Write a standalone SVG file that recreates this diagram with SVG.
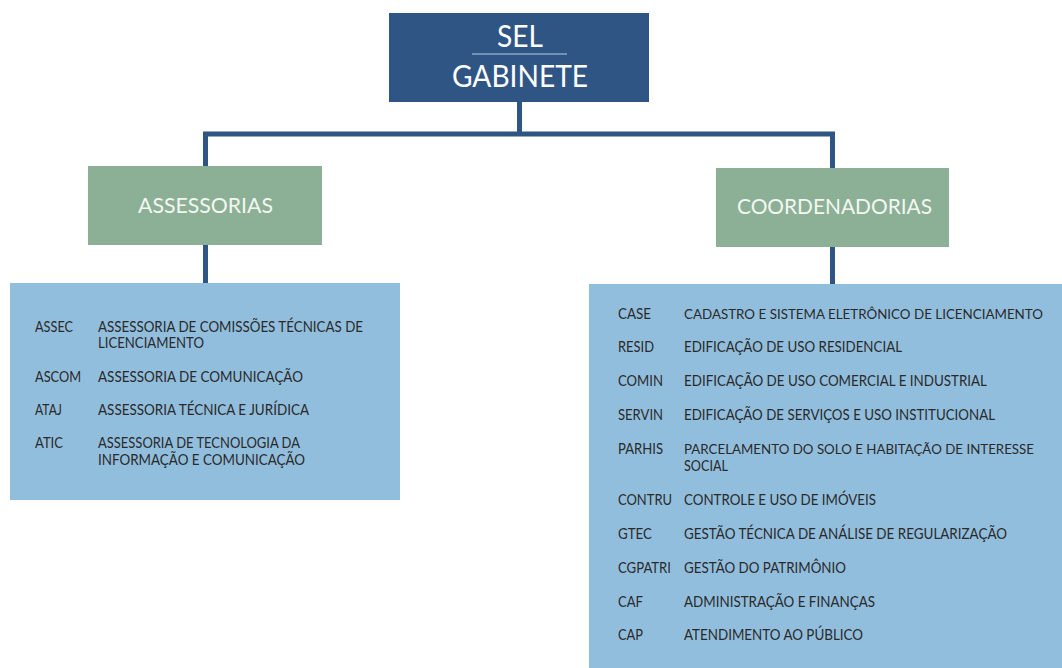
<svg xmlns="http://www.w3.org/2000/svg" width="1062" height="668" viewBox="0 0 1062 668">
<style>
.conn{stroke:#2F5584;stroke-width:5;fill:none}
.top{fill:#2F5584}
.grp{fill:#8BB096}
.list{fill:#92BEDD}
.ttl{font-family:Lato,"Open Sans",sans-serif;fill:#FFFFFF;text-anchor:middle}
.sub{font-family:Lato,"Open Sans",sans-serif;fill:#F4F6F2;font-size:21px}
.t{font-family:Lato,"Open Sans",sans-serif;fill:#2A2A2A;font-size:14.5px}
.n{font-size:13.5px}
</style>
<rect width="1062" height="668" fill="#FFFFFF"/>
<g id="connectors">
<path class="conn" d="M519.5 102V134M205.5 134H832.5M205.5 131.5V166M832.5 131.5V168M205.5 245V283M832.5 246.5V284"/>
</g>
<g id="sel">
<rect class="top" x="389" y="13" width="260" height="89"/>
<text class="ttl" x="520" y="47" font-size="30" textLength="46" lengthAdjust="spacingAndGlyphs">SEL</text>
<line x1="472" y1="54" x2="567" y2="54" stroke="#8CA6C6" stroke-width="1.5"/>
<text class="ttl" x="520" y="87" font-size="30" textLength="136" lengthAdjust="spacingAndGlyphs">GABINETE</text>
</g>
<g id="assessorias">
<rect class="grp" x="88" y="166" width="234" height="79"/>
<text class="sub" x="138" y="213" textLength="135" lengthAdjust="spacingAndGlyphs">ASSESSORIAS</text>
</g>
<g id="coordenadorias">
<rect class="grp" x="716" y="168" width="233" height="79"/>
<text class="sub" x="737" y="214" textLength="195" lengthAdjust="spacingAndGlyphs">COORDENADORIAS</text>
</g>
<g id="lista-assessorias">
<rect class="list" x="10" y="283" width="390" height="217"/>
<text class="t" x="35" y="332" textLength="38" lengthAdjust="spacingAndGlyphs">ASSEC</text>
<text class="t" x="98" y="332" textLength="265" lengthAdjust="spacingAndGlyphs">ASSESSORIA DE COMISSÕES TÉCNICAS DE</text>
<text class="t" x="98" y="348" textLength="106" lengthAdjust="spacingAndGlyphs">LICENCIAMENTO</text>
<text class="t" x="35" y="382" textLength="46" lengthAdjust="spacingAndGlyphs">ASCOM</text>
<text class="t" x="98" y="382" textLength="205" lengthAdjust="spacingAndGlyphs">ASSESSORIA DE COMUNICAÇÃO</text>
<text class="t" x="35" y="415" textLength="27" lengthAdjust="spacingAndGlyphs">ATAJ</text>
<text class="t" x="98" y="415" textLength="211" lengthAdjust="spacingAndGlyphs">ASSESSORIA TÉCNICA E JURÍDICA</text>
<text class="t" x="35" y="448" textLength="28" lengthAdjust="spacingAndGlyphs">ATIC</text>
<text class="t" x="98" y="448" textLength="202" lengthAdjust="spacingAndGlyphs">ASSESSORIA DE TECNOLOGIA DA</text>
<text class="t" x="98" y="465" textLength="207" lengthAdjust="spacingAndGlyphs">INFORMAÇÃO E COMUNICAÇÃO</text>
</g>
<g id="lista-coordenadorias">
<rect class="list" x="589" y="284" width="473" height="384"/>
<text class="t" x="618" y="319" textLength="33" lengthAdjust="spacingAndGlyphs">CASE</text>
<text class="t n" x="684" y="319" textLength="359" lengthAdjust="spacingAndGlyphs">CADASTRO E SISTEMA ELETRÔNICO DE LICENCIAMENTO</text>
<text class="t" x="618" y="352" textLength="36" lengthAdjust="spacingAndGlyphs">RESID</text>
<text class="t" x="684" y="352" textLength="218" lengthAdjust="spacingAndGlyphs">EDIFICAÇÃO DE USO RESIDENCIAL</text>
<text class="t" x="618" y="386" textLength="45" lengthAdjust="spacingAndGlyphs">COMIN</text>
<text class="t" x="684" y="386" textLength="303" lengthAdjust="spacingAndGlyphs">EDIFICAÇÃO DE USO COMERCIAL E INDUSTRIAL</text>
<text class="t" x="618" y="420" textLength="45" lengthAdjust="spacingAndGlyphs">SERVIN</text>
<text class="t" x="684" y="420" textLength="311" lengthAdjust="spacingAndGlyphs">EDIFICAÇÃO DE SERVIÇOS E USO INSTITUCIONAL</text>
<text class="t" x="618" y="454" textLength="45" lengthAdjust="spacingAndGlyphs">PARHIS</text>
<text class="t n" x="684" y="454" textLength="350" lengthAdjust="spacingAndGlyphs">PARCELAMENTO DO SOLO E HABITAÇÃO DE INTERESSE</text>
<text class="t" x="684" y="471" textLength="44" lengthAdjust="spacingAndGlyphs">SOCIAL</text>
<text class="t" x="618" y="505" textLength="54" lengthAdjust="spacingAndGlyphs">CONTRU</text>
<text class="t" x="684" y="505" textLength="192" lengthAdjust="spacingAndGlyphs">CONTROLE E USO DE IMÓVEIS</text>
<text class="t" x="618" y="539" textLength="34" lengthAdjust="spacingAndGlyphs">GTEC</text>
<text class="t" x="684" y="539" textLength="323" lengthAdjust="spacingAndGlyphs">GESTÃO TÉCNICA DE ANÁLISE DE REGULARIZAÇÃO</text>
<text class="t" x="618" y="573" textLength="53" lengthAdjust="spacingAndGlyphs">CGPATRI</text>
<text class="t" x="684" y="573" textLength="162" lengthAdjust="spacingAndGlyphs">GESTÃO DO PATRIMÔNIO</text>
<text class="t" x="618" y="607" textLength="25" lengthAdjust="spacingAndGlyphs">CAF</text>
<text class="t" x="684" y="607" textLength="191" lengthAdjust="spacingAndGlyphs">ADMINISTRAÇÃO E FINANÇAS</text>
<text class="t" x="618" y="640" textLength="25" lengthAdjust="spacingAndGlyphs">CAP</text>
<text class="t" x="684" y="640" textLength="179" lengthAdjust="spacingAndGlyphs">ATENDIMENTO AO PÚBLICO</text>
</g>
</svg>
